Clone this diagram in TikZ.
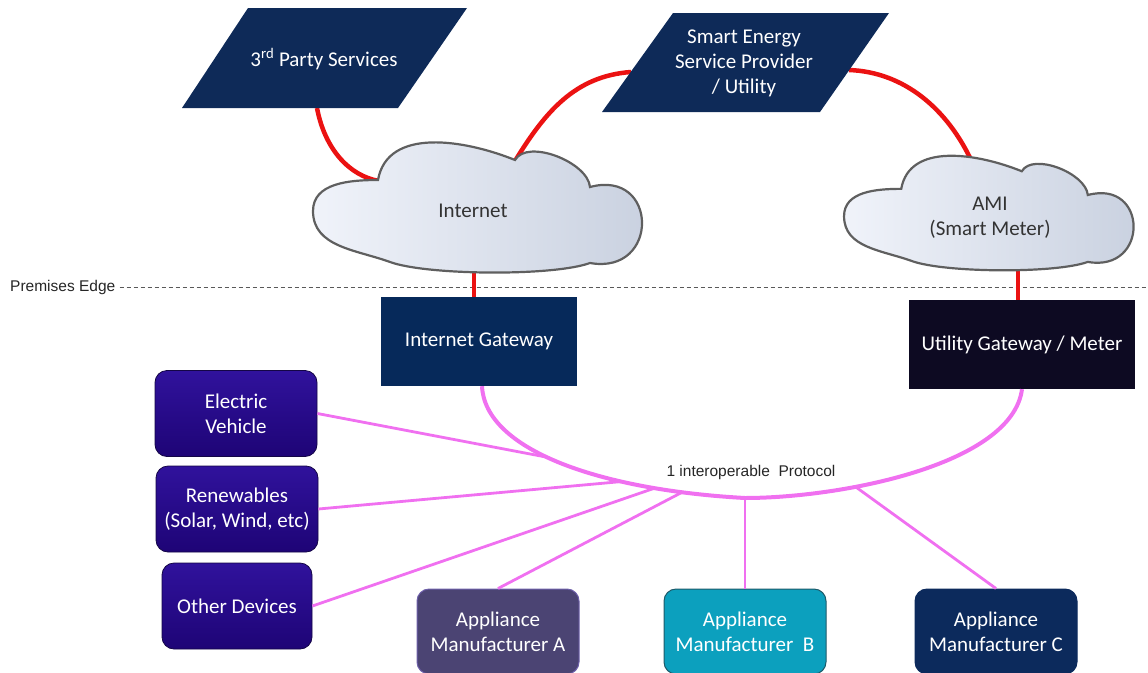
\documentclass[tikz,border=0pt]{standalone}
\usepackage{fontspec}
\setmainfont{Carlito}
\newfontfamily\arialfont{Liberation Sans}

\definecolor{navy}{RGB}{14,42,88}
\definecolor{gwnavy}{RGB}{6,41,90}
\definecolor{meterblack}{RGB}{13,10,34}
\definecolor{devtop}{RGB}{48,18,156}
\definecolor{devbot}{RGB}{30,4,118}
\definecolor{devedge}{RGB}{20,6,70}
\definecolor{appAfill}{RGB}{75,68,115}
\definecolor{appAedge}{RGB}{110,95,170}
\definecolor{appBfill}{RGB}{12,160,190}
\definecolor{appBedge}{RGB}{30,90,105}
\definecolor{appCfill}{RGB}{12,42,92}
\definecolor{linkred}{RGB}{235,18,18}
\definecolor{busviolet}{RGB}{240,112,240}
\definecolor{cloudL}{RGB}{240,243,250}
\definecolor{cloudR}{RGB}{200,208,223}
\definecolor{cloudedge}{RGB}{95,95,95}

\tikzset{
  lbl/.style={font=\fontsize{21}{25}\selectfont, align=center, inner sep=0pt},
  paratext/.style={lbl, text=white},
  cloudtext/.style={lbl, text=black!80},
  gwbox/.style={rectangle, lbl, text=white, minimum height=89pt},
  devbox/.style={rectangle, rounded corners=12pt, draw=devedge, line width=0.8pt,
    top color=devtop, bottom color=devbot, lbl, text=white,
    minimum width=162pt, minimum height=86pt},
  appbox/.style={rectangle, rounded corners=12pt, lbl, text=white,
    minimum width=162pt, minimum height=85pt, line width=1pt},
  link/.style={draw=linkred, line width=4.5pt},
  bus/.style={draw=busviolet, line width=4pt},
  spoke/.style={draw=busviolet, line width=2.8pt},
  premline/.style={draw=black!65, dash pattern=on 4pt off 3pt, line width=0.9pt},
  cloudbody/.style={draw=cloudedge, line width=2.2pt, left color=cloudL, right color=cloudR},
  cloudpic/.pic={
    \path[cloudbody] (-167,3) to[out=90,in=180] (-102,-28)
      to[out=80,in=158] (35,-48)
      to[out=60,in=95,looseness=0.8] (110,-21)
      to[out=15,in=-10,looseness=2.4] (110,55)
      to[out=200,in=-20,looseness=0.5] (-90,54)
      to[out=160,in=270] cycle;
  }
}

\begin{document}
\begin{tikzpicture}[x=1pt,y=-1pt]
\useasboundingbox (0,0) rectangle (1148,672);

% attachment points on the services and the clouds
\coordinate (pty-s) at (317,108);
\coordinate (inet-w) at (379,181);
\coordinate (inet-n) at (515,161);
\coordinate (inet-s) at (474,270);
\coordinate (sesp-w) at (631,72);
\coordinate (sesp-e) at (849,70);
\coordinate (ami-n) at (972,162);
\coordinate (ami-s) at (1018,266);
\coordinate (edge-end) at (1148,287);

% premises boundary
\node[anchor=west, inner sep=0pt, font=\arialfont\fontsize{15.5}{18}\selectfont, text=black!85] (edge) at (10,287) {Premises Edge};
\path[premline] ([xshift=4pt]edge.east) -- (edge-end);

% gateways
\node[gwbox, fill=gwnavy, minimum width=196pt] (ig) at (479,341.5) {Internet Gateway};
\node[gwbox, fill=meterblack, minimum width=226pt] (ug) at (1022,344.5) {Utility Gateway / Meter};

% wide-area links
\path[link] (pty-s) .. controls (325,150) and (350,176) .. (inet-w);
\path[link] (inet-n) .. controls (545,112) and (575,76) .. (sesp-w);
\path[link] (sesp-e) .. controls (905,72) and (948,110) .. (ami-n);
\path[link] (inet-s) -- (inet-s |- ig.north);
\path[link] (ami-s) -- (ami-s |- ug.north);

% service providers
\fill[navy] (248,8) -- (467,8) -- (398,108) -- (182,108) -- cycle;
\node[paratext] (pty) at (324,59) {3\textsuperscript{rd} Party Services};
\fill[navy] (673,13) -- (889,13) -- (820,112) -- (602,112) -- cycle;
\node[paratext] (sesp) at (744,63) {Smart Energy\\Service Provider\\/ Utility};

% clouds
\pic at (480,208) {cloudpic};
\node[cloudtext] (inet) at (473,211) {Internet};
\pic[scale=0.88] at (991,213.5) {cloudpic};
\node[cloudtext] (ami) at (990,218) {AMI\\(Smart Meter)};

% premises devices
\node[devbox] (ev) at (236,413.5) {Electric\\Vehicle};
\node[devbox] (ren) at (237,509) {Renewables\\(Solar, Wind, etc)};
\node[devbox, minimum width=150pt] (oth) at (237,606) {Other Devices};
\node[appbox, fill=appAfill, draw=appAedge] (appA) at (498,631.5) {Appliance\\Manufacturer A};
\node[appbox, fill=appBfill, draw=appBedge] (appB) at (745,631.5) {Appliance\\Manufacturer\ \ B};
\node[appbox, fill=appCfill, draw=appCfill] (appC) at (996,631.5) {Appliance\\Manufacturer C};

% the shared home-area protocol
\path[bus] ([xshift=3pt]ig.south) .. controls (485,450) and (600,490) .. (745,498)
    coordinate[pos=0.45] (b-ev) coordinate[pos=0.69] (b-ren)
    coordinate[pos=0.78] (b-oth) coordinate[pos=0.85] (b-appA)
    coordinate (b-appB)
  .. controls (840,498) and (1012,465) .. (ug.south)
    coordinate[pos=0.33] (b-appC);
\path[spoke] (ev.east) -- (b-ev);
\path[spoke] (ren.east) -- (b-ren);
\path[spoke] (oth.east) -- (b-oth);
\path[spoke] (appA.north) -- (b-appA);
\path[spoke] (appB.north) -- (b-appB);
\path[spoke] (appC.north) -- (b-appC);
\node[font=\arialfont\fontsize{15.5}{18}\selectfont, text=black!85, inner sep=0pt] (proto) at (751,472) {1 interoperable\ \ Protocol};
\end{tikzpicture}
\end{document}
